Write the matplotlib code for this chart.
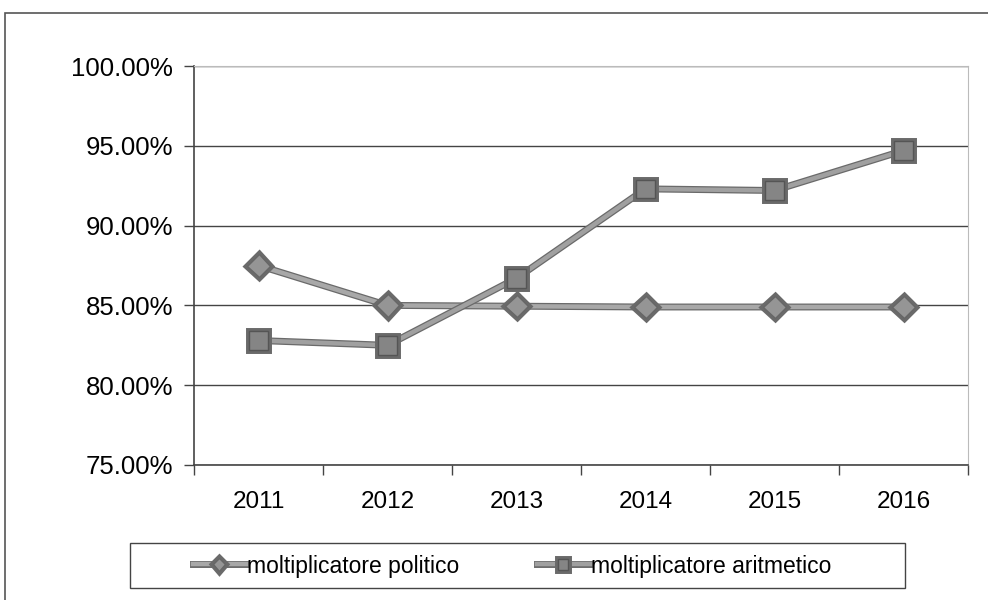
import matplotlib.pyplot as plt
import matplotlib.patheffects as pe
from matplotlib.patches import Rectangle
from matplotlib.ticker import FuncFormatter, FixedLocator

plt.rcParams['font.family'] = ['Liberation Sans', 'DejaVu Sans']

# Data
years = ['2011', '2012', '2013', '2014', '2015', '2016']
politico = [87.5, 85.0, 84.95, 84.9, 84.9, 84.9]
aritmetico = [82.8, 82.5, 86.7, 92.3, 92.2, 94.7]

fig = plt.figure(figsize=(9.88, 6), dpi=100)
fig.patch.set_facecolor('white')

# outer chart frame
fig.patches.append(Rectangle((5 / 988, -0.01), 1.0, 1 - 13 / 600 + 0.01,
                             transform=fig.transFigure, fill=False,
                             edgecolor='#555555', linewidth=1.2))
# legend box
fig.patches.append(Rectangle((130 / 988, 1 - 588 / 600), 775 / 988, 45 / 600,
                             transform=fig.transFigure, fill=False,
                             edgecolor='#444444', linewidth=1))

ax = fig.add_axes([194 / 988, 1 - 465 / 600, (968 - 194) / 988, (465 - 66) / 600])

x = list(range(len(years)))
edge = [pe.Stroke(linewidth=5, foreground='#6a6a6a'), pe.Normal()]

l1, = ax.plot(x, politico, color='#a8a8a8', linewidth=3.2, marker='D',
              markersize=11.5, markerfacecolor='#959595', markeredgecolor='#666666',
              markeredgewidth=1, path_effects=edge, zorder=3)
l2, = ax.plot(x, aritmetico, color='#a0a0a0', linewidth=3.2, marker='s',
              markersize=13.5, markerfacecolor='#858585', markeredgecolor='#555555',
              markeredgewidth=1, path_effects=edge, zorder=4)

ax.set_xlim(-0.5, len(years) - 0.5)
ax.set_ylim(75, 100)
ax.set_yticks([75, 80, 85, 90, 95, 100])
ax.yaxis.set_major_formatter(FuncFormatter(lambda v, p: f'{v:.2f}%'))
ax.set_xticks(x)
ax.set_xticklabels(years)
ax.xaxis.set_minor_locator(FixedLocator([i + 0.5 for i in range(-1, len(years))]))
ax.tick_params(axis='x', which='major', length=0, pad=19, labelsize=17.5)
ax.tick_params(axis='x', which='minor', length=7, width=1, color='#444444')
ax.tick_params(axis='y', length=7, width=1, color='#444444', labelsize=18.5, pad=8)

ax.grid(axis='y', color='#444444', linewidth=1)
ax.set_axisbelow(True)
for s in ['top', 'right']:
    ax.spines[s].set_color('#bbbbbb')
for s in ['left', 'bottom']:
    ax.spines[s].set_color('#444444')
    ax.spines[s].set_linewidth(1.2)

leg = fig.legend([l1, l2], ['moltiplicatore politico', 'moltiplicatore aritmetico'],
                 loc='center', bbox_to_anchor=(512 / 988, 1 - 566 / 600),
                 ncol=2, frameon=False, fontsize=16.5,
                 handlelength=2.3, handletextpad=0.05, columnspacing=3.4,
                 markerscale=0.55)

fig.savefig('out.png', dpi=100, facecolor='white')
